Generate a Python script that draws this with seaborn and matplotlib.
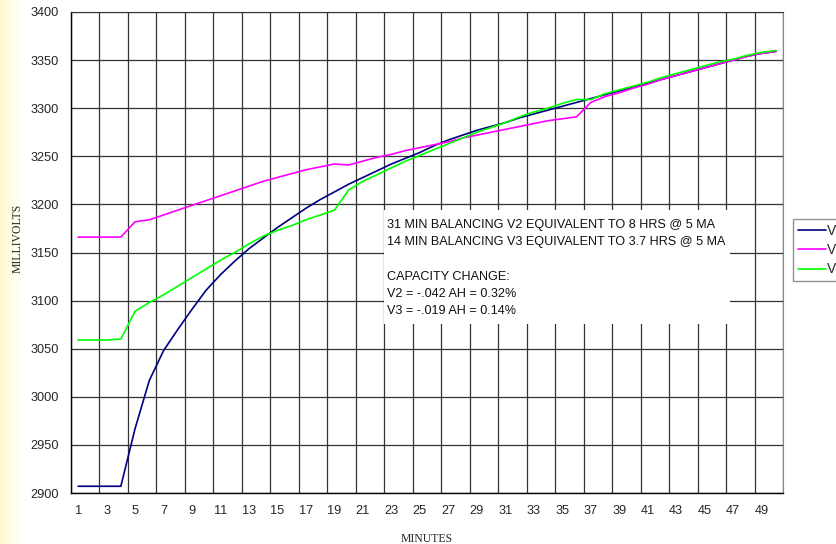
import numpy as np
import pandas as pd
import seaborn as sns
import matplotlib.pyplot as plt
from matplotlib.patches import Rectangle
from matplotlib.colors import LinearSegmentedColormap

# data
minutes = list(range(1, 51))
v1 = [2907, 2907, 2907, 2907, 2967, 3017, 3048, 3070, 3091, 3111,
      3127, 3141, 3154, 3165, 3176, 3186, 3196, 3205, 3213, 3221,
      3228, 3235, 3242, 3248, 3254, 3261, 3267, 3272, 3277, 3281,
      3285, 3290, 3294, 3298, 3302, 3306, 3310, 3314, 3318, 3322,
      3326, 3330, 3334, 3338, 3342, 3346, 3350, 3354, 3357, 3359]
v2 = [3166, 3166, 3166, 3166, 3182, 3184, 3189, 3194, 3199, 3204,
      3209, 3214, 3219, 3224, 3228, 3232, 3236, 3239, 3242, 3241,
      3245, 3249, 3252, 3256, 3259, 3262, 3265, 3269, 3272, 3275,
      3278, 3281, 3284, 3287, 3289, 3291, 3306, 3312, 3316, 3321,
      3325, 3330, 3334, 3338, 3342, 3346, 3350, 3354, 3357, 3359]
v3 = [3059, 3059, 3059, 3060, 3089, 3098, 3106, 3115, 3124, 3133,
      3142, 3150, 3159, 3167, 3173, 3178, 3184, 3189, 3194, 3215,
      3224, 3231, 3238, 3245, 3251, 3257, 3263, 3269, 3275, 3280,
      3285, 3291, 3296, 3300, 3305, 3309, 3309, 3315, 3319, 3323,
      3327, 3332, 3336, 3340, 3344, 3348, 3351, 3355, 3358, 3360]
series = ["V1", "V2", "V3"]
colors = ["#000080", "#ff00ff", "#00ff00"]
note_lines = ["31 MIN BALANCING V2 EQUIVALENT TO 8 HRS @ 5 MA",
              "14 MIN BALANCING V3 EQUIVALENT TO 3.7 HRS @ 5 MA",
              "",
              "CAPACITY CHANGE:",
              "V2 = -.042 AH = 0.32%",
              "V3 = -.019 AH = 0.14%"]

df = pd.DataFrame({"MINUTES": minutes * 3,
                   "MILLIVOLTS": v1 + v2 + v3,
                   "series": np.repeat(series, len(minutes))})

sns.set_style("white")
plt.rcParams['font.family'] = ['Liberation Sans', 'DejaVu Sans']

W, H = 836, 544
fig = plt.figure(figsize=(W / 100, H / 100), dpi=100)

# pale yellow strip on the left edge
bg = fig.add_axes([0, 0, 24 / W, 1], zorder=-5)
cmap = LinearSegmentedColormap.from_list("yel", ["#fffacc", "#ffffff"])
bg.imshow(np.linspace(0, 1, 100).reshape(1, -1), aspect="auto", cmap=cmap)
bg.axis("off")

L, R, T, B = 71, 783, 12, 493
ax = fig.add_axes([L / W, 1 - B / H, (R - L) / W, (B - T) / H])

sns.lineplot(data=df, x="MINUTES", y="MILLIVOLTS", hue="series",
             palette=colors, linewidth=1.2, ax=ax, zorder=3)

ax.set_xlim(0.5, 50.5)
ax.set_ylim(2900, 3400)
ax.set_yticks(range(2900, 3401, 50))
ax.set_xticks(np.arange(0.5, 50.6, 2))
ax.set_xticklabels([])
ax.set_xticks(range(1, 50, 2), minor=True)
ax.set_xticklabels([str(m) for m in range(1, 50, 2)], minor=True)
ax.tick_params(axis="x", which="major", length=4, width=1, color="black", direction="out")
ax.tick_params(axis="x", which="minor", length=0, pad=9, labelsize=9.2)
ax.tick_params(axis="y", length=6, width=1, color="black", direction="out", pad=3, labelsize=9.2)
ax.grid(True, which="major", color="#333333", linewidth=0.9)
ax.set_axisbelow(True)

for s in ["left", "bottom"]:
    ax.spines[s].set_color("black")
    ax.spines[s].set_linewidth(1)
ax.spines["top"].set_color("#333333")
ax.spines["right"].set_color("#888888")

ax.set_xlabel("MINUTES", family="Liberation Serif", fontsize=8.5)
ax.set_ylabel("MILLIVOLTS", family="Liberation Serif", fontsize=8.5)
ax.xaxis.set_label_coords(0.5, -0.083)
ax.yaxis.set_label_coords(-0.066, 0.53)

# white note box covering the grid
ax.add_patch(Rectangle(((384 - L) / (R - L), (B - 324) / (B - T)),
                       (730 - 384) / (R - L), (324 - 210) / (B - T),
                       transform=ax.transAxes, facecolor="white",
                       edgecolor="none", zorder=2))
for i, line in enumerate(note_lines):
    ax.text((387 - L) / (R - L), (B - (225 + 17.2 * i)) / (B - T), line,
            transform=ax.transAxes, fontsize=9.1, va="center", ha="left",
            color="#111111", zorder=4)

handles, labels = ax.get_legend_handles_labels()
ax.legend(handles, labels, loc="upper left", bbox_to_anchor=(793 / W, 1 - 219 / H),
          bbox_transform=fig.transFigure, frameon=True, fancybox=False,
          edgecolor="#777777", fontsize=10, handlelength=2.0, handletextpad=0.1,
          labelspacing=0.38, borderpad=0.35, borderaxespad=0)

fig.savefig("out.png", dpi=100)
